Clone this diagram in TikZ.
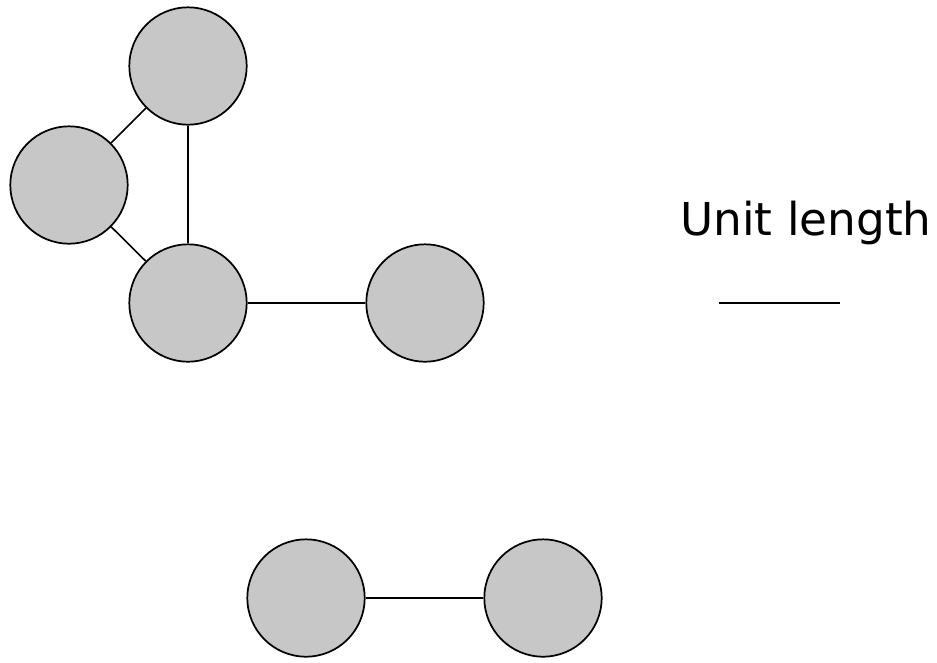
\documentclass[tikz,border=0pt]{standalone}
\usepackage{fontspec}
\setmainfont{DejaVu Sans}
\usepackage{tikz}

\begin{document}
\begin{tikzpicture}[x=0.75pt, y=-0.75pt,
		ball/.style={circle, draw, line width=1.3pt, fill=black!22, minimum size=88pt, inner sep=0pt},
		bond/.style={line width=1.2pt}]
		\useasboundingbox (0,0) rectangle (937,662);
		% Upper molecule
		\path (188,66) node[ball](T){}
		(69,185) node[ball](L){}
		(188,303) node[ball](M){}
		(425,303) node[ball](R){};
		\draw [bond](T) -- (L);
		\draw [bond](L) -- (M);
		\draw [bond](T) -- (M);
		\draw [bond](M) -- (R);
		% Lower pair
		\path (306,598) node[ball](A){}
		(543,598) node[ball](B){};
		\draw [bond](A) -- (B);
		% Scale
		\path (806,235) node[anchor=base, font=\fontsize{34}{40}\selectfont](U){Unit length};
		\coordinate (s1) at (719,303);
		\coordinate (s2) at (840,303);
		\draw [bond](s1) -- (s2);
	\end{tikzpicture}
\end{document}
